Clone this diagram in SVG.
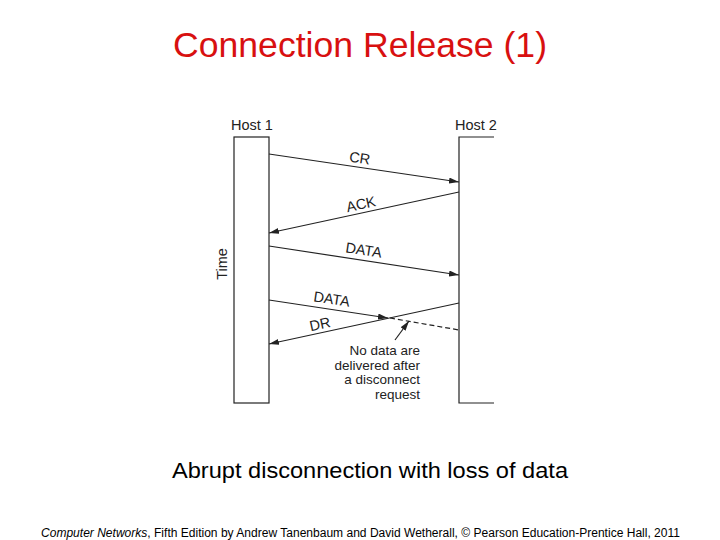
<svg xmlns="http://www.w3.org/2000/svg" width="720" height="540" viewBox="0 0 720 540">
<style>
.ln{stroke:#222;stroke-width:1.2;fill:none}
.lbl{font-family:"Liberation Sans",Arial,sans-serif;font-size:14.5px;fill:#222}
.note{font-family:"Liberation Sans",Arial,sans-serif;font-size:13.5px;fill:#222}
</style>
<defs>
<marker id="ah" viewBox="0 0 10 6" refX="10" refY="3" markerWidth="10" markerHeight="6" markerUnits="userSpaceOnUse" orient="auto">
<path d="M0,0 L10,3 L0,6 Z" fill="#222"/>
</marker>
</defs>
<rect width="720" height="540" fill="#fff"/>
<text x="360" y="57" text-anchor="middle" font-family="Liberation Sans,Arial,sans-serif" font-size="35" fill="#d81010" textLength="374" lengthAdjust="spacingAndGlyphs">Connection Release (1)</text>
<g id="host1">
<rect x="234" y="137" width="35" height="266" class="ln"/>
<text x="252" y="130" text-anchor="middle" class="lbl">Host 1</text>
</g>
<g id="host2">
<path d="M494,137 H459 V403 H494" class="ln"/>
<text x="476" y="130" text-anchor="middle" class="lbl">Host 2</text>
</g>
<text transform="translate(227,264) rotate(-90)" text-anchor="middle" class="lbl">Time</text>
<g id="connectors">
<line x1="269" y1="154" x2="459" y2="182" class="ln" marker-end="url(#ah)"/>
<text transform="translate(359,163) rotate(8.4)" text-anchor="middle" class="lbl">CR</text>
<line x1="459" y1="192" x2="269" y2="233" class="ln" marker-end="url(#ah)"/>
<text transform="translate(362,209) rotate(-12.2)" text-anchor="middle" class="lbl">ACK</text>
<line x1="269" y1="246" x2="459" y2="275" class="ln" marker-end="url(#ah)"/>
<text transform="translate(363,255) rotate(8.7)" text-anchor="middle" class="lbl">DATA</text>
<line x1="269" y1="300" x2="388" y2="318" class="ln" marker-end="url(#ah)"/>
<line x1="390" y1="318" x2="459" y2="330" class="ln" stroke-dasharray="5,3"/>
<text transform="translate(331,304) rotate(8.6)" text-anchor="middle" class="lbl">DATA</text>
<line x1="459" y1="303" x2="269" y2="344" class="ln" marker-end="url(#ah)"/>
<text transform="translate(321,329) rotate(-12.2)" text-anchor="middle" class="lbl">DR</text>
<line x1="395" y1="340" x2="409" y2="321" class="ln" marker-end="url(#ah)"/>
</g>
<g id="note">
<text text-anchor="end" class="note"><tspan x="420" y="355">No data are</tspan><tspan x="420" y="369.5">delivered after</tspan><tspan x="420" y="384">a disconnect</tspan><tspan x="420" y="398.5">request</tspan></text>
</g>
<text x="370" y="478" text-anchor="middle" font-family="Liberation Sans,Arial,sans-serif" font-size="22" fill="#000" textLength="396" lengthAdjust="spacingAndGlyphs">Abrupt disconnection with loss of data</text>
<text x="41" y="537" font-family="Liberation Sans,Arial,sans-serif" font-size="12" fill="#000" textLength="639" lengthAdjust="spacingAndGlyphs"><tspan font-style="italic">Computer Networks</tspan>, Fifth Edition by Andrew Tanenbaum and David Wetherall, © Pearson Education-Prentice Hall, 2011</text>
</svg>
